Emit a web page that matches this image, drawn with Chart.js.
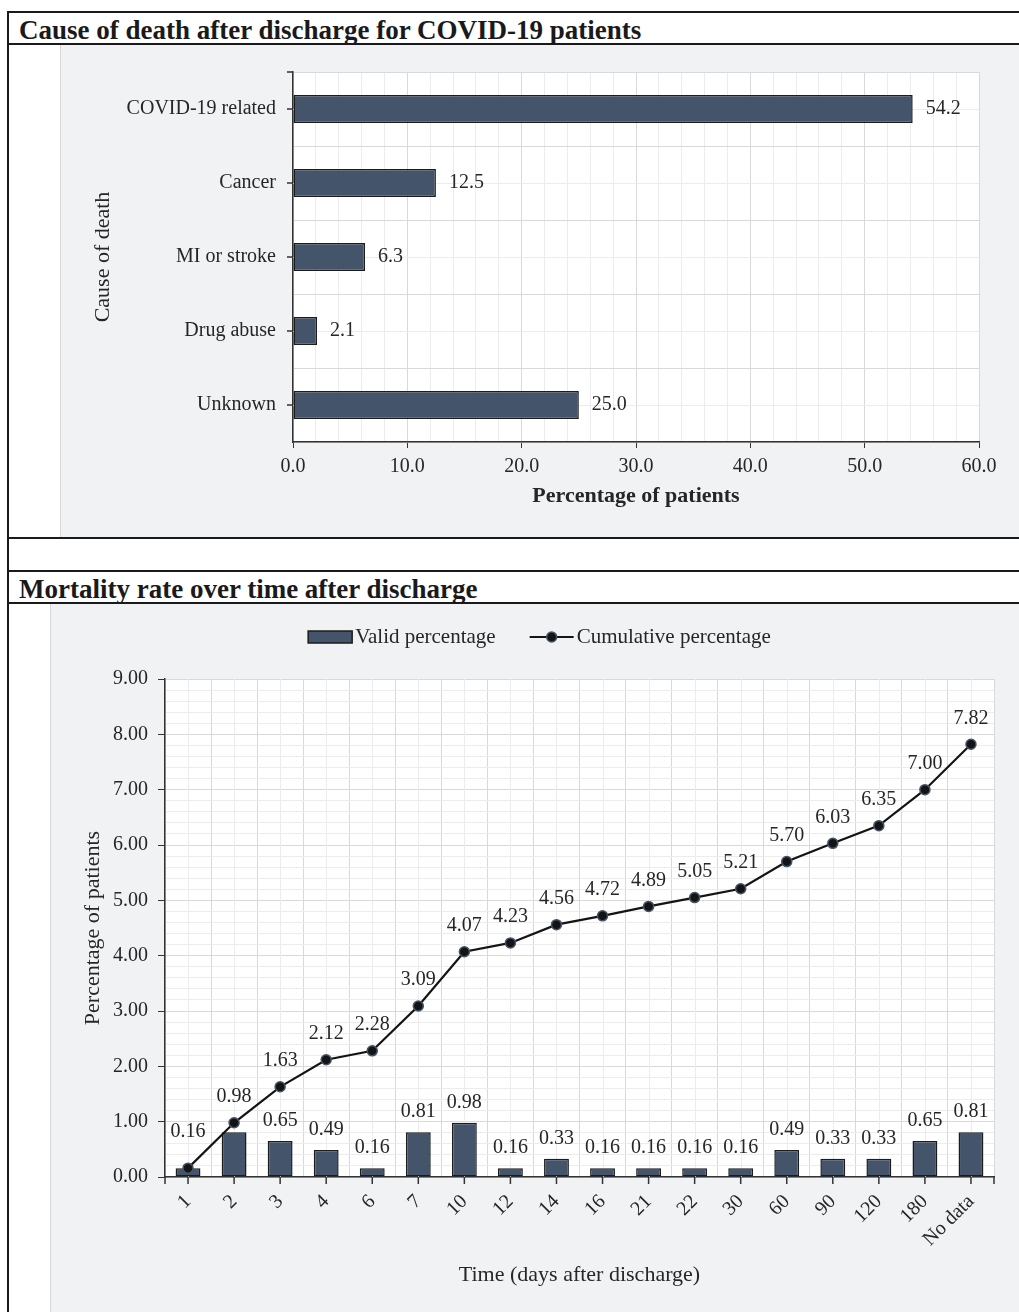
<!DOCTYPE html>
<html>
<head>
<meta charset="utf-8">
<title>Deaths after discharge</title>
<script src="https://cdn.jsdelivr.net/npm/chart.js@4.4.1/dist/chart.umd.min.js"></script>
<style>
  html, body { margin: 0; padding: 0; background: #fff; }
  body { position: relative; width: 1019px; height: 1312px; overflow: hidden;
         font-family: "Liberation Serif", "Times New Roman", serif; color: #1a1a1a; }
  .rule  { position: absolute; background: #1a1a1a; }
  .head  { position: absolute; left: 19px; font-size: 27px; line-height: 27px; font-weight: bold; white-space: nowrap; }
  .panel { position: absolute; background: #f1f2f4; border-left: 1px solid #d6d7d9; box-sizing: border-box; }
  .panel canvas { position: absolute; left: -1px; top: 0; }
</style>
</head>
<body>
<div class="rule" style="left:7px;top:11px;width:1012px;height:2px"></div>
<div class="rule" style="left:7px;top:11px;width:2px;height:1301px"></div>

<div class="head" style="top:17px">Cause of death after discharge for COVID-19 patients</div>
<div class="rule" style="left:7px;top:43px;width:1012px;height:2px"></div>
<div class="panel" style="left:60px;top:45px;width:959px;height:492px">
  <canvas id="causeChart" width="959" height="492" style="width:959px;height:492px"></canvas>
</div>
<div class="rule" style="left:7px;top:537px;width:1012px;height:2px"></div>
<div class="rule" style="left:7px;top:570px;width:1012px;height:2px"></div>

<div class="head" style="top:576px">Mortality rate over time after discharge</div>
<div class="rule" style="left:7px;top:602px;width:1012px;height:2px"></div>
<div class="panel" style="left:50px;top:604px;width:969px;height:708px">
  <canvas id="timeChart" width="969" height="708" style="width:969px;height:708px"></canvas>
</div>

<script>
/* ── data ── */
var causeLabels = ['COVID-19 related', 'Cancer', 'MI or stroke', 'Drug abuse', 'Unknown'];
var causeValues = [54.2, 12.5, 6.3, 2.1, 25.0];

var dayLabels     = ['1', '2', '3', '4', '6', '7', '10', '12', '14', '16', '21', '22', '30', '60', '90', '120', '180', 'No data'];
var validPct      = [0.16, 0.81, 0.65, 0.49, 0.16, 0.81, 0.98, 0.16, 0.33, 0.16, 0.16, 0.16, 0.16, 0.49, 0.33, 0.33, 0.65, 0.81];
var cumulativePct = [0.16, 0.98, 1.63, 2.12, 2.28, 3.09, 4.07, 4.23, 4.56, 4.72, 4.89, 5.05, 5.21, 5.70, 6.03, 6.35, 7.00, 7.82];

/* ── look ── */
var FONT   = '"Liberation Serif", "Times New Roman", serif';
var TEXT   = '#262626';
var BAR    = '#44546a';
var EDGE   = '#1c1c1c';
var AXIS   = '#333333';
var MAJOR  = '#d9d9d9';
var MINOR  = '#ececec';

Chart.defaults.font.family = FONT;
Chart.defaults.font.size   = 20;
Chart.defaults.color       = TEXT;

// white plot area on the grey panel
var plotBg = {
  id: 'plotBg',
  beforeDraw: function (chart) {
    var a = chart.chartArea, ctx = chart.ctx;
    ctx.save();
    ctx.fillStyle = '#ffffff';
    ctx.fillRect(a.left, a.top, a.right - a.left, a.bottom - a.top);
    ctx.restore();
  }
};

// light lines through category centres + tick marks at the labels
var catMinor = {
  id: 'catMinor',
  beforeDatasetsDraw: function (chart, args, opts) {
    var sc = chart.scales[opts.axis];
    var a = chart.chartArea, ctx = chart.ctx;
    var horiz = sc.isHorizontal();
    ctx.save();
    ctx.lineWidth = 1;
    sc.ticks.forEach(function (t, i) {
      var p = Math.round(sc.getPixelForTick(i)) + 0.5;
      ctx.strokeStyle = MINOR;
      ctx.beginPath();
      if (horiz) { ctx.moveTo(p, a.top); ctx.lineTo(p, a.bottom); }
      else       { ctx.moveTo(a.left, p); ctx.lineTo(a.right, p); }
      ctx.stroke();
    });
    ctx.strokeStyle = AXIS;
    ctx.lineWidth = 1.5;
    var marks = sc.ticks.map(function (t, i) { return sc.getPixelForTick(i); });
    if (horiz) { marks.push(a.left, a.right); } else { marks.push(a.top); }
    marks.forEach(function (p) {
      ctx.beginPath();
      if (horiz) { ctx.moveTo(p, a.bottom); ctx.lineTo(p, a.bottom + opts.tickLen); }
      else       { ctx.moveTo(a.left, p); ctx.lineTo(a.left - opts.tickLen, p); }
      ctx.stroke();
    });
    ctx.restore();
  }
};

// value labels next to bars / above points
var valueLabels = {
  id: 'valueLabels',
  afterDatasetsDraw: function (chart, args, opts) {
    var ctx = chart.ctx;
    ctx.save();
    ctx.font = '20px ' + FONT;
    ctx.fillStyle = TEXT;
    ctx.textBaseline = 'middle';
    chart.data.datasets.forEach(function (ds, di) {
      var cfg = opts.sets[di];
      if (!cfg) return;
      chart.getDatasetMeta(di).data.forEach(function (el, i) {
        if (cfg.skip && cfg.skip.indexOf(i) >= 0) return;
        var txt = ds.data[i].toFixed(cfg.digits);
        if (cfg.side === 'right') {
          ctx.textAlign = 'left';
          ctx.fillText(txt, el.x + cfg.gap, el.y);
        } else {
          var lift = (cfg.lift && cfg.lift[i]) || cfg.gap;
          ctx.textAlign = 'center';
          ctx.fillText(txt, el.x, el.y - lift);
        }
      });
    });
    ctx.restore();
  }
};

// legend row: bar swatch + line-with-dot swatch
var rowLegend = {
  id: 'rowLegend',
  afterDraw: function (chart, args, opts) {
    var ctx = chart.ctx, ds = chart.data.datasets;
    ctx.save();
    ctx.font = '21px ' + FONT;
    var w0 = ctx.measureText(ds[0].label).width;
    var w1 = ctx.measureText(ds[1].label).width;
    var total = 44 + 4 + w0 + 34 + 44 + 4 + w1;
    var x = chart.width / 2 - total / 2 + opts.shift;
    var y = opts.y;

    ctx.fillStyle = ds[0].backgroundColor;
    ctx.strokeStyle = ds[0].borderColor;
    ctx.lineWidth = 1.5;
    ctx.fillRect(x, y - 6, 44, 12);
    ctx.strokeRect(x, y - 6, 44, 12);
    x += 47;
    ctx.fillStyle = TEXT;
    ctx.textBaseline = 'middle';
    ctx.textAlign = 'left';
    ctx.fillText(ds[0].label, x, y);
    x += w0 + 34;

    ctx.strokeStyle = ds[1].borderColor;
    ctx.lineWidth = 2.2;
    ctx.beginPath(); ctx.moveTo(x, y); ctx.lineTo(x + 44, y); ctx.stroke();
    ctx.beginPath(); ctx.arc(x + 22, y, 5, 0, Math.PI * 2);
    ctx.fillStyle = ds[1].pointBackgroundColor; ctx.fill();
    ctx.strokeStyle = ds[1].pointBorderColor; ctx.lineWidth = 1.5; ctx.stroke();
    x += 47;
    ctx.fillStyle = TEXT;
    ctx.fillText(ds[1].label, x, y);
    ctx.restore();
  }
};

/* ── 1. cause of death, horizontal bars ── */
new Chart(document.getElementById('causeChart'), {
  type: 'bar',
  data: {
    labels: causeLabels,
    datasets: [{
      label: 'Percentage of patients',
      data: causeValues,
      backgroundColor: BAR, borderColor: EDGE, borderWidth: 1.5, borderSkipped: false,
      barPercentage: 0.38, categoryPercentage: 1
    }]
  },
  options: {
    indexAxis: 'y', responsive: false, animation: false,
    layout: { padding: { left: 0, right: 40, top: 27, bottom: 0 } },
    plugins: {
      legend: { display: false }, tooltip: { enabled: false },
      catMinor: { axis: 'y', tickLen: 6 },
      valueLabels: { sets: [{ side: 'right', gap: 13, digits: 1 }] }
    },
    scales: {
      x: {
        type: 'linear', min: 0, max: 60,
        afterFit: function (s) { s.height = 95; },
        ticks: {
          stepSize: 2, autoSkip: false, maxRotation: 0, padding: 7,
          callback: function (v) { return v % 10 === 0 ? v.toFixed(1) : ''; }
        },
        grid: {
          tickLength: 6,
          color: function (c) { return c.tick && c.tick.value % 10 === 0 ? MAJOR : MINOR; },
          tickColor: function (c) { return c.tick && c.tick.value % 10 === 0 ? AXIS : 'rgba(0,0,0,0)'; }
        },
        border: { color: AXIS, width: 1.5 },
        title: { display: true, text: 'Percentage of patients', font: { size: 22, weight: 'bold' }, padding: { top: 0, bottom: 27 } }
      },
      y: {
        offset: true,
        afterFit: function (s) { s.width = 233; },
        grid: { offset: true, color: MAJOR, tickColor: 'rgba(0,0,0,0)', tickLength: 6 },
        border: { color: AXIS, width: 1.5 },
        ticks: { padding: 11 },
        title: { display: true, text: 'Cause of death', font: { size: 22 }, padding: { top: 30, bottom: 0 } }
      }
    }
  },
  plugins: [plotBg, catMinor, valueLabels]
});

/* ── 2. mortality over time, bars + cumulative line ── */
function isWhole(v) { return Math.abs(v - Math.round(v)) < 1e-6; }

new Chart(document.getElementById('timeChart'), {
  type: 'bar',
  data: {
    labels: dayLabels,
    datasets: [
      {
        type: 'bar', label: 'Valid percentage', data: validPct, order: 1,
        backgroundColor: BAR, borderColor: EDGE, borderWidth: 1.5, borderSkipped: false,
        barPercentage: 0.54, categoryPercentage: 1
      },
      {
        type: 'line', label: 'Cumulative percentage', data: cumulativePct, order: 0,
        borderColor: '#141414', borderWidth: 2.2, tension: 0,
        pointRadius: 5, pointBackgroundColor: '#141414', pointBorderColor: BAR, pointBorderWidth: 1.5
      }
    ]
  },
  options: {
    responsive: false, animation: false,
    layout: { padding: { left: 0, right: 25, top: 75, bottom: 0 } },
    plugins: {
      legend: { display: false }, tooltip: { enabled: false },
      rowLegend: { y: 33, shift: 6 },
      catMinor: { axis: 'x', tickLen: 7 },
      valueLabels: {
        sets: [
          { side: 'top', gap: 20, digits: 2, skip: [0, 1] },
          { side: 'top', gap: 26, digits: 2, lift: { 0: 36 } }
        ]
      }
    },
    scales: {
      x: {
        offset: true,
        afterFit: function (s) { s.height = 135; },
        grid: { offset: true, color: MAJOR, tickColor: 'rgba(0,0,0,0)', tickLength: 7 },
        border: { color: AXIS, width: 1.5 },
        ticks: { autoSkip: false, minRotation: 45, maxRotation: 45, padding: 6 },
        title: { display: true, text: 'Time (days after discharge)', font: { size: 22 }, padding: { top: 0, bottom: 24 } }
      },
      y: {
        min: 0, max: 9,
        afterFit: function (s) { s.width = 115; },
        ticks: {
          stepSize: 0.2, autoSkip: false, padding: 10,
          callback: function (v) { return isWhole(v) ? v.toFixed(2) : ''; }
        },
        grid: {
          tickLength: 7,
          color: function (c) { return c.tick && isWhole(c.tick.value) ? MAJOR : MINOR; },
          tickColor: function (c) { return c.tick && isWhole(c.tick.value) ? AXIS : 'rgba(0,0,0,0)'; }
        },
        border: { color: AXIS, width: 1.5 },
        title: { display: true, text: 'Percentage of patients', font: { size: 22 }, padding: { top: 30, bottom: 0 } }
      }
    }
  },
  plugins: [plotBg, catMinor, valueLabels, rowLegend]
});
</script>
</body>
</html>
